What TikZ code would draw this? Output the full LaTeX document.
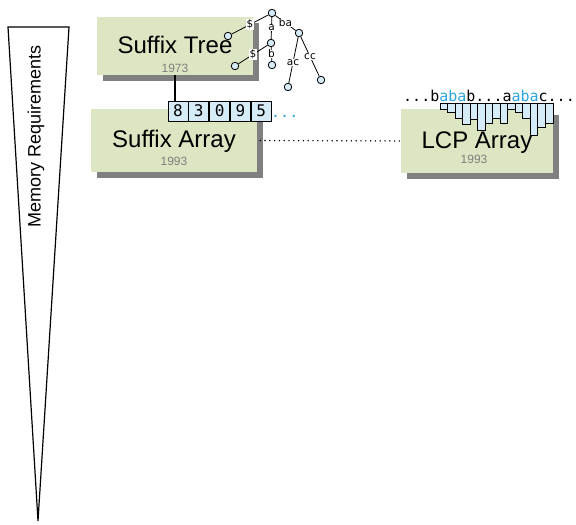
\documentclass[tikz,border=0pt]{standalone}
\usepackage{fontspec}
\setmainfont{Liberation Sans}
\newfontfamily\monofont{DejaVu Sans Mono}
\newfontfamily\labfont{DejaVu Sans}
\usepackage{tikz}
\usetikzlibrary{positioning,shadows}
\definecolor{boxgreen}{HTML}{DCE6C2}
\definecolor{cellblue}{HTML}{D5EBF8}
\definecolor{dotblue}{HTML}{2EA3DF}
\definecolor{yeargray}{HTML}{7F7F7F}
\tikzset{paper box/.style={fill=boxgreen,inner sep=0pt,drop shadow={shadow xshift=5.5pt,shadow yshift=-5.5pt,fill=black!50,opacity=1}},title/.style={font=\fontsize{24}{24}\selectfont,inner sep=0pt,anchor=base},year/.style={font=\fontsize{12}{12}\selectfont,text=yeargray,inner sep=0pt,anchor=base},cell/.style={draw,fill=cellblue,line width=0.8pt,minimum width=20pt,minimum height=20pt,inner sep=0pt,font=\monofont\fontsize{16}{16}\selectfont},tree node/.style={circle,draw,fill=cellblue,line width=0.8pt,minimum size=7.5pt,inner sep=0pt},tree edge/.style={line width=0.8pt},lab/.style={fill=white,inner sep=0.4pt,font=\labfont\fontsize{10.5}{10.5}\selectfont},bar/.style={draw,fill=cellblue,line width=0.8pt}}

\begin{document}
\begin{tikzpicture}[x=1pt,y=-1pt]
    \useasboundingbox (0,0) rectangle (576,525);
    % memory wedge
    \draw[line width=1.2pt,line join=miter] (8,27) -- (69,27) -- (38,521) -- cycle;
    \node[rotate=90,font=\fontsize{18}{18}\selectfont,inner sep=0pt] (memlabel) at (36,136) {Memory Requirements};

    \node[paper box, minimum width=156pt, minimum height=58pt] (tree) at (175,46) {};
    \node[title] (treetitle) at (175,53) {Suffix Tree};
    \node[year] (treeyear) at (175,72) {1973};

    \node[paper box, minimum width=166pt, minimum height=63pt] (sa) at (174,140.5) {};
    \node[title] (satitle) at (174,147) {Suffix Array};
    \node[year] (sayear) at (174,165) {1993};

    \node[paper box, minimum width=152pt, minimum height=64pt] (lcp) at (477,141) {};
    \node[title] (lcptitle) at (477,148) {LCP Array};
    \node[year] (lcpyear) at (474,163) {1993};

    \draw[line width=1.6pt,line cap=round,dash pattern=on 0pt off 4.8pt] ([xshift=3pt]sa.east) -- (lcp.west);

    % suffix array cells
    \node[cell] (c1) at (178,111) {8};
    \node[cell, right=0pt of c1] (c2) {3};
    \node[cell, right=0pt of c2] (c3) {0};
    \node[cell, right=0pt of c3] (c4) {9};
    \node[cell, right=0pt of c4] (c5) {5};
    \node[anchor=base west,inner sep=0pt,text=dotblue,font=\monofont\fontsize{15}{15}\selectfont] (more) at (271,117) {...};
    \draw[line width=1.2pt] (tree.south) -- (tree.south |- c1.north);

    % suffix tree
    \node[tree node] (t0) at (272,13) {};
    \node[tree node] (t1) at (228,36) {};
    \node[tree node] (t2) at (271,43) {};
    \node[tree node] (t3) at (299,33) {};
    \node[tree node] (t4) at (235,66) {};
    \node[tree node] (t5) at (272,65) {};
    \node[tree node] (t6) at (288,87) {};
    \node[tree node] (t7) at (321,80) {};
    \path[tree edge] (t0) edge node[lab] {\$} (t1);
    \path[tree edge] (t0) edge node[lab] {a} (t2);
    \path[tree edge] (t0) edge node[lab] {ba} (t3);
    \path[tree edge] (t2) edge node[lab] {\$} (t4);
    \path[tree edge] (t2) edge node[lab] {b} (t5);
    \path[tree edge] (t3) edge node[lab, pos=0.55] {ac} (t6);
    \path[tree edge] (t3) edge node[lab] {cc} (t7);

    % lcp bars
    \draw[bar] (440,103) rectangle ++(7.53,6);
    \draw[bar] (447.53,103) rectangle ++(7.53,9);
    \draw[bar] (455.06,103) rectangle ++(7.53,15);
    \draw[bar] (462.59,103) rectangle ++(7.53,21);
    \draw[bar] (470.12,103) rectangle ++(7.53,16);
    \draw[bar] (477.65,103) rectangle ++(7.53,27);
    \draw[bar] (485.18,103) rectangle ++(7.53,20);
    \draw[bar] (492.71,103) rectangle ++(7.53,15);
    \draw[bar] (500.24,103) rectangle ++(7.53,20);
    \draw[bar] (507.77,103) rectangle ++(7.53,6);
    \draw[bar] (515.30,103) rectangle ++(7.53,9);
    \draw[bar] (522.83,103) rectangle ++(7.53,15);
    \draw[bar] (530.36,103) rectangle ++(7.53,32);
    \draw[bar] (537.89,103) rectangle ++(7.53,24);
    \draw[bar] (545.42,103) rectangle ++(7.53,20);
    \node[anchor=base west,inner sep=0pt,font=\monofont\fontsize{15}{15}\selectfont] (seq) at (403,101) {...b\textcolor{dotblue}{aba}b...a\textcolor{dotblue}{aba}c...};
\end{tikzpicture}
\end{document}
